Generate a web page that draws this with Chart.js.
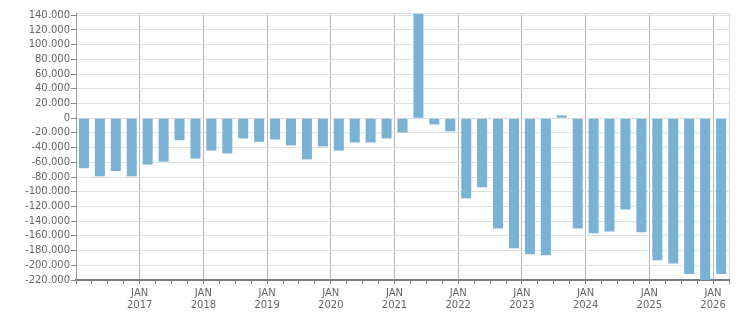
<!DOCTYPE html>
<html>
<head>
<meta charset="utf-8">
<script src="https://cdn.jsdelivr.net/npm/chart.js@4/dist/chart.umd.min.js"></script>
<style>
  html, body { margin: 0; padding: 0; background: #fff; }
  #wrap { width: 751px; height: 313px; position: relative; }
</style>
</head>
<body>
<div id="wrap"><canvas id="c" width="751" height="313"></canvas></div>
<script>
// Quarterly categories (Q1 2016 .. Q1 2026)
const quarters = [
  '2016 Q1','2016 Q2','2016 Q3','2016 Q4',
  '2017 Q1','2017 Q2','2017 Q3','2017 Q4',
  '2018 Q1','2018 Q2','2018 Q3','2018 Q4',
  '2019 Q1','2019 Q2','2019 Q3','2019 Q4',
  '2020 Q1','2020 Q2','2020 Q3','2020 Q4',
  '2021 Q1','2021 Q2','2021 Q3','2021 Q4',
  '2022 Q1','2022 Q2','2022 Q3','2022 Q4',
  '2023 Q1','2023 Q2','2023 Q3','2023 Q4',
  '2024 Q1','2024 Q2','2024 Q3','2024 Q4',
  '2025 Q1','2025 Q2','2025 Q3','2025 Q4',
  '2026 Q1'
];
// Values per quarter
const values = [
  -68000, -79000, -72000, -79000,
  -63000, -59000, -30000, -55000,
  -44000, -48000, -27500, -32000,
  -29000, -37000, -56000, -38500,
  -44000, -33000, -33000, -27500,
  -19500, 141500, -8500, -18000,
  -109000, -94000, -150000, -177000,
  -185000, -186500, 3700, -150000,
  -156500, -154000, -124000, -155000,
  -193000, -197500, -212000, -221000,
  -212000
];
// Y tick values
const yTicks = [
  -220000, -200000, -180000, -160000, -140000, -120000, -100000,
  -80000, -60000, -40000, -20000, 0, 20000, 40000, 60000, 80000,
  100000, 120000, 140000
];
const yMin = -220000;
const yMax = 143000;
const monthLabel = 'JAN';

function fmt(v) {
  const neg = v < 0;
  let s = String(Math.abs(Math.round(v)));
  s = s.replace(/\B(?=(\d{3})+(?!\d))/g, '.');
  return (neg ? '-' : '') + s;
}

const FONT = { family: 'DejaVu Sans', size: 10, lineHeight: 1.25 };

new Chart(document.getElementById('c'), {
  type: 'bar',
  data: {
    labels: quarters,
    datasets: [{
      data: values,
      backgroundColor: '#7ab2d4',
      borderWidth: 0,
      barPercentage: 0.63,
      categoryPercentage: 1.0
    }]
  },
  options: {
    responsive: false,
    animation: false,
    devicePixelRatio: 1,
    layout: { padding: { top: 13, right: 22, left: 0, bottom: 0 } },
    plugins: { legend: { display: false }, tooltip: { enabled: false } },
    scales: {
      x: {
        type: 'category',
        position: 'bottom',
        offset: true,
        afterFit: s => { s.height = 33; },
        grid: {
          offset: true,
          drawOnChartArea: true,
          lineWidth: 1,
          color: ctx => {
            if (ctx.index === undefined) return '#dddddd';
            if (ctx.index === 0) return 'rgba(0,0,0,0)';
            return (ctx.index % 4 === 0) ? '#b4b4b4' : 'rgba(0,0,0,0)';
          },
          tickColor: '#888888',
          tickLength: 4
        },
        border: { display: true, color: '#7a7a7a', width: 2 },
        ticks: {
          autoSkip: false,
          maxRotation: 0,
          minRotation: 0,
          labelOffset: -8,
          padding: 3,
          color: '#666666',
          font: FONT,
          callback: function(v, i) {
            const q = quarters[i];
            if (i > 0 && q.endsWith('Q1')) return [monthLabel, q.slice(0, 4)];
            return '';
          }
        }
      },
      xTop: {
        type: 'category',
        position: 'top',
        afterFit: s => { s.height = 0; },
        grid: { display: false, drawTicks: false },
        border: { display: true, color: '#dddddd', width: 1 },
        ticks: { display: false }
      },
      y: {
        type: 'linear',
        min: yMin,
        max: yMax,
        afterFit: s => { s.width = 76; },
        afterBuildTicks: s => { s.ticks = yTicks.map(v => ({ value: v })); },
        grid: {
          color: '#e0e0e0',
          lineWidth: 1,
          tickColor: '#888888',
          tickLength: 5
        },
        border: { display: true, color: '#999999', width: 1 },
        ticks: {
          autoSkip: false,
          padding: 1,
          color: '#666666',
          font: { family: 'DejaVu Sans', size: 10 },
          callback: v => fmt(v)
        }
      }
    }
  }
});
</script>
</body>
</html>
